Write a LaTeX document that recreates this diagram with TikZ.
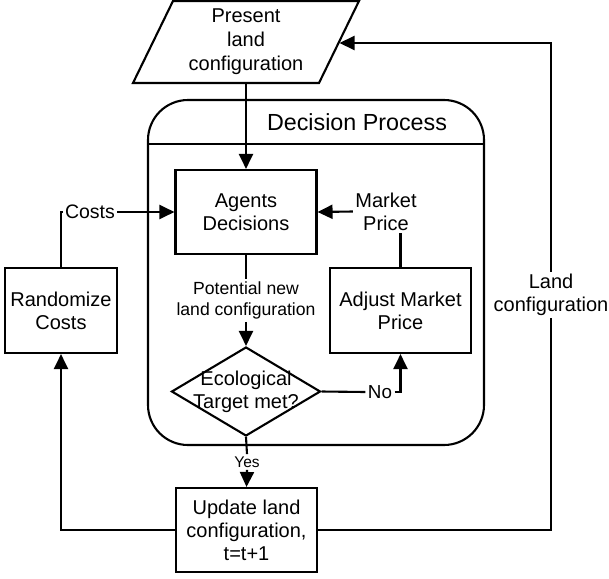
\documentclass[tikz,border=0pt]{standalone}
\usepackage{fontspec}
\setmainfont{Liberation Sans}
\usetikzlibrary{shapes.geometric,arrows.meta}
\begin{document}
\begin{tikzpicture}[x=1pt,y=-1pt,line width=2.1pt,
  fnt/.style={font=\fontsize{#1}{23}\selectfont},
  box/.style={draw,align=center,fnt=20,inner sep=0pt,minimum width=#1,minimum height=85pt},
  lbl/.style={align=center,fnt=#1,inner sep=1.5pt},
  arr/.style={-{Triangle[length=15pt,width=14pt]}}]
\useasboundingbox (0,0) rectangle (609,578);
% parallelogram
\draw (173,1) -- (359,1) -- (319,83) -- (133,83) -- cycle;
\node[lbl=20,font=\fontsize{20}{24}\selectfont] (pres) at (246,42) {Present\\land\\configuration};
\coordinate (parB) at (246,83);
\coordinate (parR) at (339.5,43);
% decision process container
\draw[rounded corners=40pt] (148,100) rectangle (484,445);
\draw (148,144) -- (484,144);
\node[lbl=23.3] (title) at (357,122) {Decision Process};
% boxes
\node[box=141pt,minimum height=84pt] (agents) at (246,212) {Agents\\Decisions};
\node[box=112pt] (rand) at (61,310.5) {Randomize\\Costs};
\node[box=141pt] (adjust) at (400.5,310.5) {Adjust Market\\Price};
\node[box=141pt,minimum height=84pt] (update) at (246.5,530) {Update land\\configuration,\\t=t+1};
\node[diamond,draw,minimum width=149pt,minimum height=89pt,inner sep=0pt] (dia) at (246,391.5) {};
\node[lbl=20,fnt=20] (diatext) at (246,392) {Ecological\\Target met?};
% labels
\node[lbl=19.5] (costs) at (90,212) {Costs};
\node[lbl=20] (mkt) at (386,211.5) {Market\\Price};
\node[lbl=17.6,font=\fontsize{17.6}{21}\selectfont] (pot) at (246,300.5) {Potential new\\land configuration};
\node[lbl=18.8] (no) at (380,392) {No};
\node[lbl=15.5] (yes) at (247,462) {Yes};
\node[lbl=20] (landlbl) at (551,295) {Land\\configuration};
% connectors
\draw[arr] (parB) -- (agents.north);
\draw (rand.north) |- (costs.west);
\draw[arr] (costs.east) -- (agents.west);
\draw[arr] (mkt.west) -- (agents.east);
\draw (adjust.north) -- (adjust.north |- mkt.south);
\draw (agents.south) -- (pot.north);
\draw[arr] (pot.south) -- (dia.north);
\draw (dia.east) -- (no.west);
\draw[arr] (no.east) -| (adjust.south);
\draw (dia.south) -- (yes.north);
\draw[arr] (yes.south) -- (update.north);
\draw[arr] (update.west) -| (rand.south);
\draw (update.east) -| (landlbl.south);
\draw[arr] (landlbl.north) |- (parR);
\end{tikzpicture}
\end{document}
